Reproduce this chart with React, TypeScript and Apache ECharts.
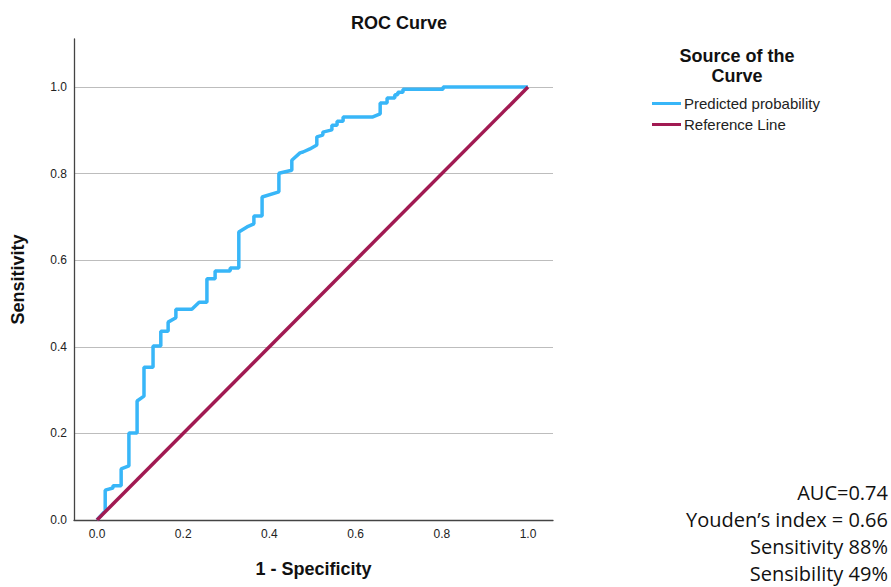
import React, { useEffect, useRef } from "react";
import * as echarts from "echarts";

// ROC curve points: [1 - specificity, sensitivity]
const rocX = [
  0, 0.019, 0.019, 0.037, 0.037, 0.056, 0.056, 0.074, 0.074, 0.093, 0.093, 0.109, 0.109, 0.13, 0.13,
  0.148, 0.148, 0.165, 0.165, 0.183, 0.183, 0.22, 0.237, 0.255, 0.255, 0.274, 0.274, 0.309, 0.309,
  0.329, 0.329, 0.348, 0.364, 0.364, 0.383, 0.383, 0.422, 0.422, 0.452, 0.452, 0.471, 0.478, 0.494,
  0.51, 0.51, 0.524, 0.524, 0.545, 0.545, 0.557, 0.557, 0.571, 0.571, 0.582, 0.64, 0.657, 0.657,
  0.673, 0.673, 0.691, 0.691, 0.698, 0.698, 0.71, 0.71, 0.803, 0.803, 1.0,
];
const rocY = [
  0, 0.021, 0.069, 0.074, 0.079, 0.079, 0.118, 0.125, 0.201, 0.201, 0.275, 0.286, 0.353, 0.353, 0.402,
  0.402, 0.436, 0.436, 0.457, 0.467, 0.487, 0.487, 0.503, 0.503, 0.557, 0.557, 0.575, 0.575, 0.582,
  0.582, 0.665, 0.677, 0.684, 0.702, 0.702, 0.746, 0.758, 0.801, 0.808, 0.831, 0.848, 0.85, 0.857,
  0.866, 0.885, 0.889, 0.896, 0.901, 0.912, 0.912, 0.921, 0.921, 0.931, 0.931, 0.931, 0.938, 0.963,
  0.963, 0.975, 0.975, 0.982, 0.982, 0.988, 0.988, 0.995, 0.995, 1.0, 1.0,
];
const refX = [0, 1];
const refY = [0, 1];
const tickValues = [0, 0.2, 0.4, 0.6, 0.8, 1.0];
const seriesNames = ["Predicted probability", "Reference Line"];
const statLines = ["AUC=0.74", "Youden\u2019s index = 0.66", "Sensitivity 88%", "Sensibility 49%"];

export default function App() {
  const ref = useRef<HTMLDivElement>(null);
  useEffect(() => {
    document.body.style.margin = "0";
    document.body.style.overflow = "hidden";
    if (!ref.current) return;
    const chart = echarts.init(ref.current, undefined, { renderer: "svg" });
    const font = "'Liberation Sans', Arial, sans-serif";
    chart.setOption({
      animation: false,
      textStyle: { fontFamily: font },
      grid: { left: 74, right: 338, top: 39, bottom: 67 },
      xAxis: {
        type: "value",
        min: -0.0534,
        max: 1.058,
        name: "1 - Specificity",
        nameLocation: "middle",
        nameGap: 40,
        nameTextStyle: { fontSize: 18, fontWeight: "bold", color: "#111", fontFamily: font },
        axisLine: { show: true, onZero: false, lineStyle: { color: "#444", width: 1.3 } },
        axisTick: { show: false, customValues: tickValues },
        axisLabel: {
          customValues: tickValues,
          fontSize: 12,
          color: "#222",
          margin: 8,
          formatter: (v: number) => v.toFixed(1),
        },
        splitLine: { show: false },
      },
      yAxis: {
        type: "value",
        min: 0,
        max: 1.111,
        name: "Sensitivity",
        nameLocation: "middle",
        nameGap: 47,
        nameTextStyle: { fontSize: 18, fontWeight: "bold", color: "#111", fontFamily: font },
        axisLine: { show: true, onZero: false, lineStyle: { color: "#444", width: 1.3 } },
        axisTick: { show: false, customValues: tickValues },
        axisLabel: {
          customValues: tickValues,
          fontSize: 12,
          color: "#222",
          margin: 7,
          formatter: (v: number) => v.toFixed(1),
        },
        splitLine: { show: true, lineStyle: { color: "#bdbdbd", width: 1 } },
      },
      legend: {
        orient: "vertical",
        left: 652,
        top: 96,
        padding: 0,
        itemWidth: 29,
        itemHeight: 3,
        itemGap: 6,
        icon: "rect",
        textStyle: { fontSize: 15, color: "#222", fontFamily: font, padding: [0, 0, 0, -2] },
        data: seriesNames,
      },
      graphic: [
        {
          type: "text",
          x: 399,
          y: 14,
          style: { text: "ROC Curve", font: `bold 18px ${font}`, fill: "#111", align: "center" },
        },
        {
          type: "text",
          x: 737,
          y: 46,
          style: {
            text: "Source of the\nCurve",
            font: `bold 18px ${font}`,
            fill: "#111",
            align: "center",
            lineHeight: 20,
          },
        },
        ...statLines.map((t, i) => ({
          type: "text",
          x: 888,
          y: 482 + i * 27,
          style: {
            text: t,
            font: `20px 'Open Sans', sans-serif`,
            fill: "#111",
            align: "right",
          },
        })),
      ],
      series: [
        {
          name: seriesNames[0],
          type: "line",
          data: rocX.map((x, i) => [x, rocY[i]]),
          showSymbol: false,
          symbol: "none",
          lineStyle: { color: "#38b6f8", width: 3.5 },
          itemStyle: { color: "#38b6f8" },
          z: 3,
        },
        {
          name: seriesNames[1],
          type: "line",
          data: refX.map((x, i) => [x, refY[i]]),
          showSymbol: false,
          symbol: "none",
          lineStyle: { color: "#a11a52", width: 3.5 },
          itemStyle: { color: "#a11a52" },
          z: 4,
        },
      ],
    });
    return () => chart.dispose();
  }, []);
  return <div ref={ref} style={{ width: 891, height: 587 }} />;
}
